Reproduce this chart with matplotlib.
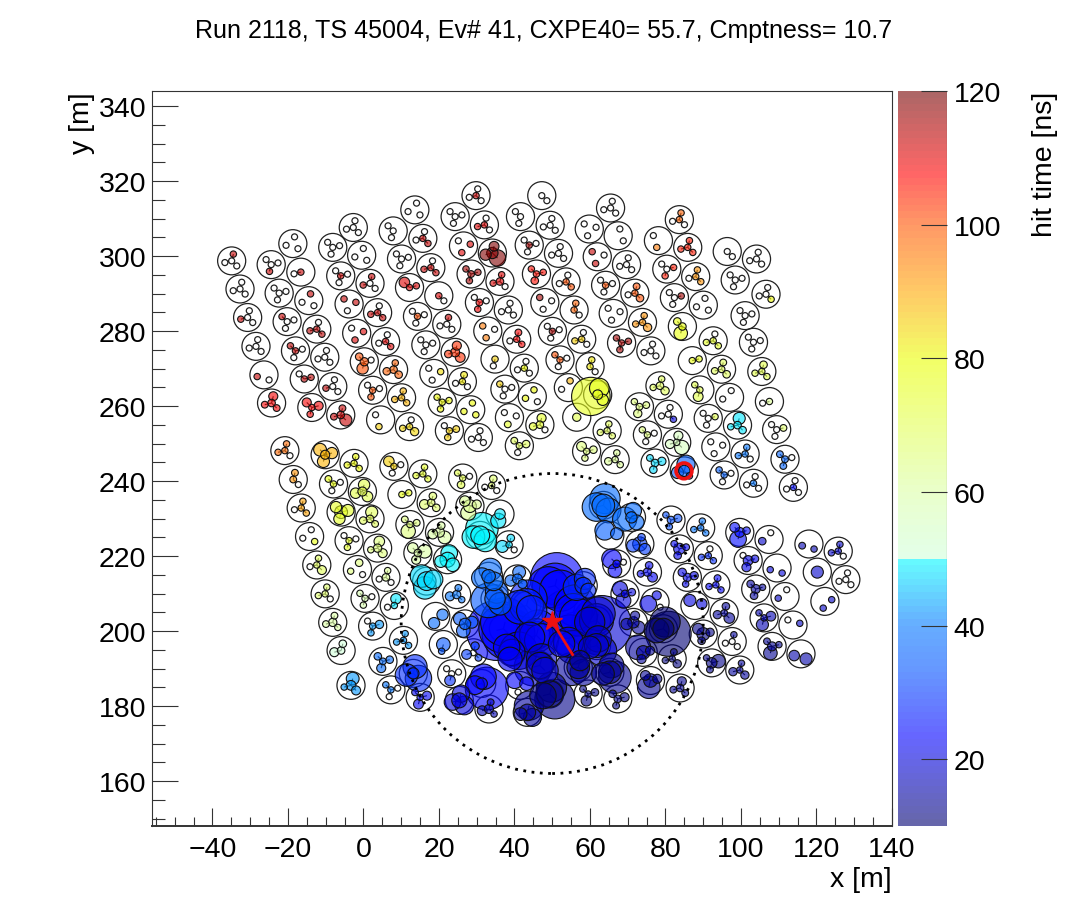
import matplotlib
matplotlib.use("Agg")
import matplotlib.pyplot as plt
from matplotlib.patches import Circle
from matplotlib.collections import PatchCollection, LineCollection
from matplotlib.colors import LinearSegmentedColormap, ListedColormap, Normalize
from matplotlib.cm import ScalarMappable
from matplotlib.ticker import MultipleLocator
import numpy as np

plt.rcParams['font.family'] = ['Liberation Sans', 'DejaVu Sans']

TITLE = "Run 2118, TS 45004, Ev# 41, CXPE40= 55.7, Cmptness= 10.7"

# Each tank: centre (m), orientation, hit time (ns), PMT charge radii
# (centre, p1, p2, p3): 0 = PMT not hit, -1 = no PMT, >0 = drawn radius in m
nwa_x = [-34.8,-32.6,-30.6,-28.4,-26.3,-24.3,-18.7,-24.4,-16.6,-22.3,-14.5,-20.2,-12.4,-18.0,-10.3,-15.7,-8.2,-13.7,-6.1]
nwa_y = [298.7,291.2,283.6,275.9,268.3,260.8,303.3,297.7,295.7,290.1,288.1,282.5,280.5,274.7,273.0,267.2,265.2,259.6,257.6]
nwa_f = [1,1,1,1,1,1,1,-1,1,-1,1,-1,1,-1,1,-1,1,-1,1]
nwa_t = [112,0,112,0,112,108,0,112,112,0,112,112,113,113,0,113,113,108,112]
nwa_q = [(0,.8,0,0),(0,0,0,0),(0,0,.8,0),(0,0,0,0),(-1,-1,.8,0),(1,1.2,.9,.9),(-1,0,0,0),(0,.8,0,0),(.8,-1,0,-1),(0,0,0,0),(-1,.8,0,0),(0,0,0,.8),(.8,0,.8,.8),(.7,0,0,.8),(0,0,0,0),(.8,-1,.8,0),(0,0,.8,0),(.8,.8,1.2,1.2),(1,.9,.9,1.6)]

nwb_x = [-2.8,-8.2,-0.6,-6.1,1.6,-3.9,3.6,-1.9,5.7,0.1,7.8,2.3,9.9,4.4,12]
nwb_y = [307.6,302.3,300.2,294.7,292.7,287.2,284.9,279.4,277.2,271.8,269.7,264.2,262.2,256.3,254.5]
nwb_f = [1,-1,1,-1,1,-1,1,-1,1,-1,1,-1,1,-1,1]
nwb_t = [0,0,0,112,112,112,112,110,110,100,98,100,88,85,84]
nwb_q = [(0,0,0,0),(0,0,0,0),(-1,0,0,0),(.8,0,0,0),(0,.8,.8,0),(-1,0,.8,.8),(.8,0,.8,.8),(-1,.8,.8,0),(.8,0,0,.8),(1.1,1.5,0,1),(1,.8,1,1),(.8,.8,0,0),(.7,.8,.7,.7),(-1,.8,-1,0),(.7,0,.8,1.1)]

nwc_x = [13.4,7.7,15.5,9.9,17.6,12,19.7,14.1,21.8,16.3,24,18.4,25.9,20.6,28.1,22.5,30.1]
nwc_y = [312.3,306.7,304.7,299.2,296.9,291.6,289.4,283.9,281.8,276.3,274.3,268.7,266.5,261,259,253.4,251.6]
nwc_f = [1,-1,1,-1,1,-1,1,-1,1,-1,1,-1,1,-1,1,-1,1]
nwc_t = [0,0,112,0,112,110,110,100,112,0,103,83,82,80,80,85,0]
nwc_q = [(-1,0,0,0),(0,0,-1,0),(.8,0,0,.8),(0,0,0,0),(.8,0,.8,.8),(.7,-1,.8,1.4),(.8,-1,-1,0),(.7,0,0,0),(0,.8,0,0),(0,0,0,0),(1.2,1.2,1,1.3),(-1,0,.7,0),(.7,.9,0,0),(.6,.8,.8,.8),(-1,.8,.8,.8),(.7,.8,.9,0),(0,0,0,0)]

nwd_x = [29.5,24,31.7,26.2,33.8,28.2,35.8,30.4,32.6,34.5,37.1,38.3]
nwd_y = [316.1,310.5,308.3,302.7,300.8,295.2,293.2,287.6,280,272.5,264.5,256.9]
nwd_f = [1,-1,1,-1,1,-1,1,-1,-1,-1,-1,-1]
nwd_t = [112,0,110,110,118,115,110,108,95,85,85,75]
nwd_q = [(.8,0,0,0),(0,0,0,0),(.8,0,.8,0),(-1,.8,.8,0),(1.5,1.3,1.5,2.2),(.9,.8,.8,.8),(1,.8,.7,0),(.9,.7,0,0),(-1,.8,0,.7),(.8,0,-1,-1),(0,0,0,.8),(-1,.9,0,0)]

na_x = [38,40.2,42.2,44.3,46.3,40.9,46.8,41.2,49,43.5,51.2,45.4,53.2,47.6,55.3,49.6,57.3,51.6,59.5,53.8,56]
na_y = [285.6,277.8,270.1,262.5,255,249.4,316.1,310.5,308.2,302.9,300.7,295.2,293.1,287.6,285.6,279.9,277.8,272.3,270.5,264.9,257]
na_f = [1,1,1,1,1,-1,1,-1,1,-1,1,-1,1,-1,1,-1,1,-1,1,1,1]
na_t = [0,108,80,80,75,70,0,0,0,115,0,106,100,115,98,115,85,100,82,88,72]
na_q = [(0,0,0,0),(.8,.9,0,.8),(.7,0,0,0),(-1,.6,.8,0),(1,1.2,1,0),(.7,0,1,.9),(0,-1,-1,0),(0,0,-1,0),(0,0,0,0),(.8,0,0,0),(0,0,0,0),(.8,1,.7,.8),(.7,0,0,.8),(-1,0,0,.8),(.7,.8,-1,0),(.8,0,0,0),(.7,0,.7,0),(.8,0,0,.8),(.7,.7,-1,0),(-1,.7,0,-1),(1.1,-1,-1,-1)]

nb_x = [64.9,59.3,66.9,61.4,69.1,63.6,71.3,65.6,73.3,67.8,75.5]
nb_y = [312.8,307.2,305.4,299.8,297.7,292.2,290.1,284.7,282.3,276.8,274.7]
nb_f = [1,-1,1,-1,1,-1,1,-1,1,-1,1]
nb_t = [0,0,0,112,0,100,100,0,92,115,0]
nb_q = [(0,0,0,0),(-1,0,0,0),(-1,0,-1,0),(-1,.8,0,.8),(0,0,0,0),(.7,0,0,0),(.8,.9,0,1),(-1,0,0,0),(.8,.7,.8,1.1),(.7,.8,.7,.8),(0,0,0,0)]

nc_x = [83,77.5,85.2,79.7,87.3,81.7,89.3,83.8,91.9,86.4,94.1,88.4,96.2,90.6,98.3,92.6,100.3,94.8,102.5]
nc_y = [309.7,304.1,302.3,296.5,294.5,288.9,286.9,281.2,277.4,272.1,269.8,264.3,262.3,256.7,254.9,249.1,247.2,241.6,239.4]
nc_f = [1,-1,1,-1,1,-1,1,-1,1,-1,1,-1,1,-1,1,-1,1,-1,1]
nc_t = [98,95,105,105,92,115,0,78,75,78,70,72,0,72,48,0,40,35,40]
nc_q = [(.7,.7,0,0),(-1,.8,-1,0),(.8,.8,.8,.8),(0,.8,.8,0),(.7,.7,0,.8),(0,0,.8,0),(-1,0,0,0),(1,1.8,-1,1),(.7,0,.7,.8),(.6,-1,.6,-1),(.9,.9,.9,1),(.8,1.3,-1,.7),(-1,0,0,-1),(0,0,.7,0),(1,1.6,.8,1),(-1,0,0,0),(.7,.7,.8,0),(.7,0,0,.8),(.7,0,0,0)]

nd_x = [95.6,103.3,97.7,105.8,100.3,102.5,104.7,106.7,108.6,110.8,113]
nd_y = [301.2,299.2,293.6,289.8,284.1,277,269.2,261.2,253.7,245.8,238.3]
nd_f = [1,1,-1,1,-1,-1,1,1,-1,-1,1]
nd_t = [0,0,0,80,0,0,72,62,68,36,25]
nd_q = [(0,-1,-1,0),(0,0,0,0),(0,0,0,0),(0,0,0,.7),(0,0,0,0),(0,0,0,0),(.8,1,.8,.8),(.7,-1,0,-1),(0,0,.9,0),(.9,.9,0,.9),(.7,0,0,0)]

ne_x = [77.9,72.5,80.1,74.6,82.3,76.6,84.3,64,58.6,66.1,61.5]
ne_y = [265.4,259.8,257.8,252.3,250.3,244.8,242.7,253.4,247.9,245.7,263]
ne_f = [1,-1,1,-1,1,-1,1,1,-1,1,1]
ne_t = [70,65,20,65,55,47,35,70,65,62,76]
ne_q = [(1,.7,.7,1.1),(.9,1.1,.9,.8),(0,0,0,.7),(.7,0,0,.6),(.8,1.2,1.2,1.9),(1,1,1.1,.9),(1.5,2.4,1.6,.8),(.8,.8,.8,.8),(.8,.8,1,1.3),(.7,.7,1,.7),(1.3,2.6,5.1,1.5)]

wa_x = [-20.8,-10.2,-2.6,7.9,15.5,-18.6,-8,-0.4,10,17.7,-16.5,-6,1.6,12.1,19.9,-14.3,-3.9,3.6,14.2,22]
wa_y = [248.1,247,244.7,243.9,241.9,240.4,239.2,237.2,236.4,234.2,232.8,231.7,229.9,228.4,226.3,225.2,224.1,222.1,220.8,219]
wa_f = [1,-1,1,-1,1,1,-1,1,-1,1,1,-1,1,-1,1,1,-1,1,-1,1]
wa_t = [97,88,80,85,75,92,78,72,78,68,90,75,70,66,60,78,75,66,60,49]
wa_q = [(.7,.8,.8,0),(1.2,1.6,1.5,1.7),(.7,.7,.7,.8),(.7,0,0,1.4),(.8,.7,.8,.7),(.9,.9,-1,0),(.7,0,0,.9),(1.2,1.5,1.4,1.4),(.7,-1,.7,-1),(1,1,1.3,1),(.6,.7,0,.7),(1.7,1.5,1.6,1.5),(1,1.6,1,.9),(.8,1.9,.9,.9),(1.3,1,1.3,1.7),(-1,0,0,.7),(.7,.7,0,0),(1.1,1.4,.8,1.2),(1,1.2,1.8,1.4),(2,2.2,1.6,1.8)]

wb_x = [-12.4,-1.7,5.8,16.5,-10.2,0.3,8,-8.2,2.3,10.4,-6,5,13,-3.4,7.1,14.8]
wb_y = [217.6,216.4,214.3,213.3,209.9,208.7,206.8,202.3,201.3,197.5,194.8,191.9,188.7,185.5,184.3,182.3]
wb_f = [1,1,1,-1,1,-1,1,1,-1,1,1,-1,1,1,-1,-1]
wb_t = [70,66,62,47,68,58,48,60,42,42,50,38,28,42,40,22]
wb_q = [(.8,.7,0,1.2),(-1,1,.7,0),(1,.7,0,0),(2.5,3,2.5,3),(.7,.6,.8,0),(.7,.8,0,.6),(.6,1.4,0,-1),(1.1,.9,.9,.7),(.8,.7,1.1,0),(.8,.6,.7,.7),(1,1,1.2,-1),(.9,1.2,1,1),(1.5,3.2,3,3.5),(1.3,1.7,.8,1.2),(.6,0,0,.8),(.8,1.3,1.2,.9)]

ca_x = [26,33.6,27.9,35.8,30.6,38.2,24.4,18.9,26.6,20.9,28.8,23.1,25.1,31,32.9,32.8,40.4,34.5]
ca_y = [240.8,238.8,233.3,231.2,225.5,223,209.7,203.9,201.9,196.4,194.2,188.6,181.5,186,179.2,214.6,213.9,208.6]
ca_f = [-1,1,-1,-1,1,1,1,-1,-1,-1,1,-1,1,1,1,1,1,1]
ca_t = [72,68,62,48,49,47,40,37,34,33,30,28,20,23,17,38,36,34]
ca_q = [(.7,1,0,.7),(.7,1,0,0),(1.7,2,1.2,1.4),(1.4,2,-1,-1),(2.5,4.3,3,3),(.7,1,1.6,0),(1.1,.9,1.2,.8),(-1,1.5,1.5,-1),(1.5,1.8,1.6,1.7),(1.8,.8,-1,-1),(0,1.1,1.3,.9),(0,1.4,0,0),(2,2.3,2.2,2.5),(1.5,3.4,2.5,5.7),(1.2,.9,1.3,.8),(1.8,3,2.7,2.5),(1.3,1.7,1.5,1.2),(2.7,3,4.6,3)]

cb_x = [36.7,42.8,50.3,57.7,55.1,61.2,45.4,38.9,53.8,61.2,46.3,41,48.9,43,56.4,64.7,59,66.8]
cb_y = [200.6,206.8,212.1,212.1,205,202.8,198.8,194.3,197,196.1,190.8,185.5,183.2,178.3,190.3,189,183.2,181.9]
cb_f = [1,1,1,1,1,1,1,-1,1,1,1,-1,1,1,1,1,-1,-1]
cb_t = [24,26,24,28,23,19,22,22,21,18,18,24,12,14,14,13,12,12]
cb_q = [(6.5,6.5,8,7),(4.5,5,4.5,4),(6,7,5.5,5.5),(2.2,2.8,3.5,2),(5,5.5,6.5,5),(4.5,4.5,4,8),(4.5,5,4,4.5),(3.5,3.2,5,3.5),(4,5.5,3.5,4.5),(3.2,3.5,3,4),(3.5,4,5,3.5),(-1,0,1.8,2.2),(3.5,4,3.5,5.3),(2.2,3.9,1.7,2.4),(3,2.7,4.4,3.5),(3,3.3,3,4.3),(.8,1.4,1,.9),(1,.9,1.2,1)]

ea_x = [63,70.4,64.7,72.6,66.5,74.6,68.7,76.6,70.9,78.8,73.5,81.1,75.4,83.2]
ea_y = [233.5,230.3,225.5,223.2,217.9,215.7,209.9,207.7,202.3,200.6,194.3,192.6,186.8,184.8]
ea_f = [1,1,-1,1,-1,1,-1,1,1,1,-1,1,-1,1]
ea_t = [37,38,35,30,24,22,20,21,14,10,14,11,13,13]
ea_q = [(3,4,3.8,3.3),(1.5,2.2,3.2,2),(-1,-1,1.6,2.6),(1.9,1,1.7,1.5),(1,1.8,0,2.6),(1.1,1,.9,1.3),(1,2,1,2),(-1,1.2,2.2,0),(1.5,1.2,1.5,1.7),(2.8,4,3.3,6),(1.8,1.2,1.2,3.3),(.7,.9,.8,1.1),(1.8,3,1.2,1.3),(1,1.2,.9,.9)]

eb_x = [80.8,88.6,83,90.6,85.1,92.6,87.1,94.8,89.3,96.9,91.5,98.9]
eb_y = [229.6,227.5,221.9,220.1,214.3,212.3,206.8,204.8,199.2,197.2,191.5,189.6]
eb_f = [-1,1,-1,1,-1,1,-1,1,-1,1,-1,1]
eb_t = [32,40,22,28,21,24,20,14,12,14,12,14]
eb_q = [(1,.6,1.1,.7),(.8,.7,.7,.7),(1.5,1,.9,.9),(.8,0,.7,.7),(1.1,.7,1.1,1.1),(.7,.9,.7,.7),(-1,-1,1.4,1.6),(.9,1,1.1,1.4),(1.7,1,1.1,1.5),(0,.8,0,0),(1.4,.9,1.8,.8),(.8,.8,1.1,1.1)]

ec_x = [98.9,106.6,101.1,108.7,103.1,110.8,105.3,112.9,107.4,115,117.1,124.8,119.3,126.8,121.3]
ec_y = [226.3,224.4,218.8,216.8,211.2,209.2,203.5,201.6,195.9,193.9,223.2,221.3,215.7,213.7,207.9]
ec_f = [-1,1,-1,1,-1,1,-1,-1,-1,1,1,1,1,1,-1]
ec_t = [25,18,21,20,14,18,17,18,13,15,16,18,18,0,18]
ec_q = [(1.3,2.2,1,1.3),(-1,0,1,-1),(1.3,1.2,1,0),(-1,-1,.7,.7),(1.2,1,.8,1),(-1,0,.8,-1),(.7,1.6,1.3,.7),(-1,-1,.7,0),(1.2,1.8,.7,.9),(-1,-1,1.4,1.6),(-1,-1,.9,.7),(.7,.7,.7,0),(1.6,-1,-1,-1),(0,0,0,0),(-1,.7,.7,-1)]

tank_x = nwa_x+nwb_x+nwc_x+nwd_x+na_x+nb_x+nc_x+nd_x+ne_x+wa_x+wb_x+ca_x+cb_x+ea_x+eb_x+ec_x
tank_y = nwa_y+nwb_y+nwc_y+nwd_y+na_y+nb_y+nc_y+nd_y+ne_y+wa_y+wb_y+ca_y+cb_y+ea_y+eb_y+ec_y
tank_f = nwa_f+nwb_f+nwc_f+nwd_f+na_f+nb_f+nc_f+nd_f+ne_f+wa_f+wb_f+ca_f+cb_f+ea_f+eb_f+ec_f
tank_t = nwa_t+nwb_t+nwc_t+nwd_t+na_t+nb_t+nc_t+nd_t+ne_t+wa_t+wb_t+ca_t+cb_t+ea_t+eb_t+ec_t
tank_q = nwa_q+nwb_q+nwc_q+nwd_q+na_q+nb_q+nc_q+nd_q+ne_q+wa_q+wb_q+ca_q+cb_q+ea_q+eb_q+ec_q
assert len(tank_x) == len(tank_y) == len(tank_f) == len(tank_t) == len(tank_q)

# The x readings above used a slightly coarse scale; this corrects them.
X_READ_SCALE, X_READ_SHIFT = 1.0066, 0.13

# Reconstructed core and reference marks (m)
core_x, core_y = 49.9, 202.7
arrow_x, arrow_y = 55.4, 193.7
ring_x, ring_y, ring_r = 50.0, 202.0, 40.0
peak_x, peak_y = 84.9, 242.7
TANK_R = 3.72
PMT_R = 0.8
MIN_HIT_R = 0.85
PMT_DX = [0.0, 0.45, -1.8, 1.35]
PMT_DY = [0.0, 1.8, -0.45, -1.35]

# Colour scale
cm_t = [10, 23, 33, 40, 50, 50.2, 60, 80, 90, 100, 108, 120]
cm_rgb = [(0,0,.45),(0,0,1),(0,.32,1),(0,.47,1),(0,1,1),(.82,1,.86),(.86,1,.66),(.92,1,0),(1,.66,0),(1,.34,0),(1,0,0),(.47,0,0)]
pos = [(t-10)/110 for t in cm_t]
base = LinearSegmentedColormap.from_list('hit', list(zip(pos, cm_rgb)), N=110)
rgba = base(np.linspace(0, 1, 110))
rgba[:, 3] = 0.6
cmap = ListedColormap(rgba)
norm = Normalize(10, 120)

W, H = 1089, 920
fig = plt.figure(figsize=(W/100, H/100), dpi=100)
ax = fig.add_axes([152/W, 1-827/H, (892-152)/W, (827-92)/H])
ax.set_xlim(-56, 140)
ax.set_ylim(148, 344)

tanks, spokes, idle, hits = [], [], [], []
for x0, y, f, t, q in zip(tank_x, tank_y, tank_f, tank_t, tank_q):
    x = x0*X_READ_SCALE + X_READ_SHIFT
    tanks.append(Circle((x, y), TANK_R))
    px = [x + f*d for d in PMT_DX]
    py = [y + f*d for d in PMT_DY]
    for i in range(4):
        if i > 0 and q[0] != -1 and q[i] != -1:
            spokes.append([(px[0], py[0]), (px[i], py[i])])
        if q[i] == 0:
            idle.append(Circle((px[i], py[i]), PMT_R))
        elif q[i] > 0:
            hits.append((max(q[i], MIN_HIT_R), px[i], py[i], t))

ax.add_collection(PatchCollection(tanks, facecolor='none', edgecolor='#222222', linewidth=0.9, zorder=1))
ax.add_collection(LineCollection(spokes, colors='#222222', linewidths=0.8, zorder=2))
ax.add_collection(PatchCollection(idle, facecolor='white', edgecolor='#222222', linewidth=0.9, zorder=2.5))
hits.sort(key=lambda h: -h[0])
patches = [Circle((h[1], h[2]), h[0]) for h in hits]
colors = [cmap(norm(h[3])) for h in hits]
ax.add_collection(PatchCollection(patches, facecolors=colors, edgecolors='#111111', linewidths=0.8, zorder=3))

ax.add_patch(Circle((ring_x, ring_y), ring_r, fill=False, edgecolor='black', linestyle=(0, (1, 2)), linewidth=2, zorder=4))
ax.add_patch(Circle((peak_x, peak_y), 2.1, fill=False, edgecolor='#ee1111', linewidth=2.6, zorder=5))
ax.plot([core_x, arrow_x], [core_y, arrow_y], color='#ee1111', lw=2, zorder=6)
ax.plot([core_x], [core_y], marker='*', ms=15, color='#ee1111', mec='#ee1111', zorder=7)

FS = 20.5
ax.xaxis.set_major_locator(MultipleLocator(20))
ax.xaxis.set_minor_locator(MultipleLocator(5))
ax.yaxis.set_major_locator(MultipleLocator(20))
ax.yaxis.set_minor_locator(MultipleLocator(5))
ax.tick_params(axis='x', which='major', direction='in', length=13, width=0.8, color='#333333', labelsize=FS, pad=7)
ax.tick_params(axis='x', which='minor', direction='in', length=6.5, width=0.8, color='#333333')
ax.tick_params(axis='y', which='major', direction='in', length=18.7, width=0.8, color='#333333', labelsize=FS, pad=4)
ax.tick_params(axis='y', which='minor', direction='in', length=9.4, width=0.8, color='#333333')
for s in ax.spines.values():
    s.set_linewidth(0.8)
    s.set_color('#333333')
ax.spines['bottom'].set_linewidth(1.4)

fig.text(892/W, 1-880/H, 'x [m]', ha='right', va='center', fontsize=FS)
fig.text(82/W, 1-92/H, 'y [m]', ha='center', va='top', rotation=90, fontsize=FS)
fig.text(544/W, 1-31/H, TITLE, ha='center', va='center', fontsize=18)

cax = fig.add_axes([897.7/W, 1-827/H, (946.7-897.7)/W, (827-92)/H])
cb = fig.colorbar(ScalarMappable(norm=norm, cmap=cmap), cax=cax)
cb.set_ticks([20, 40, 60, 80, 100, 120])
cb.minorticks_off()
cb.outline.set_visible(False)
cax.tick_params(axis='y', direction='in', length=18.7, width=0.8, color='#333333', labelsize=FS, pad=5)
cax.axvline(1, color='#333333', lw=0.8)
fig.text(1045/W, 1-92/H, 'hit time [ns]', ha='center', va='top', rotation=90, fontsize=FS)

fig.savefig('out.png', dpi=100)
